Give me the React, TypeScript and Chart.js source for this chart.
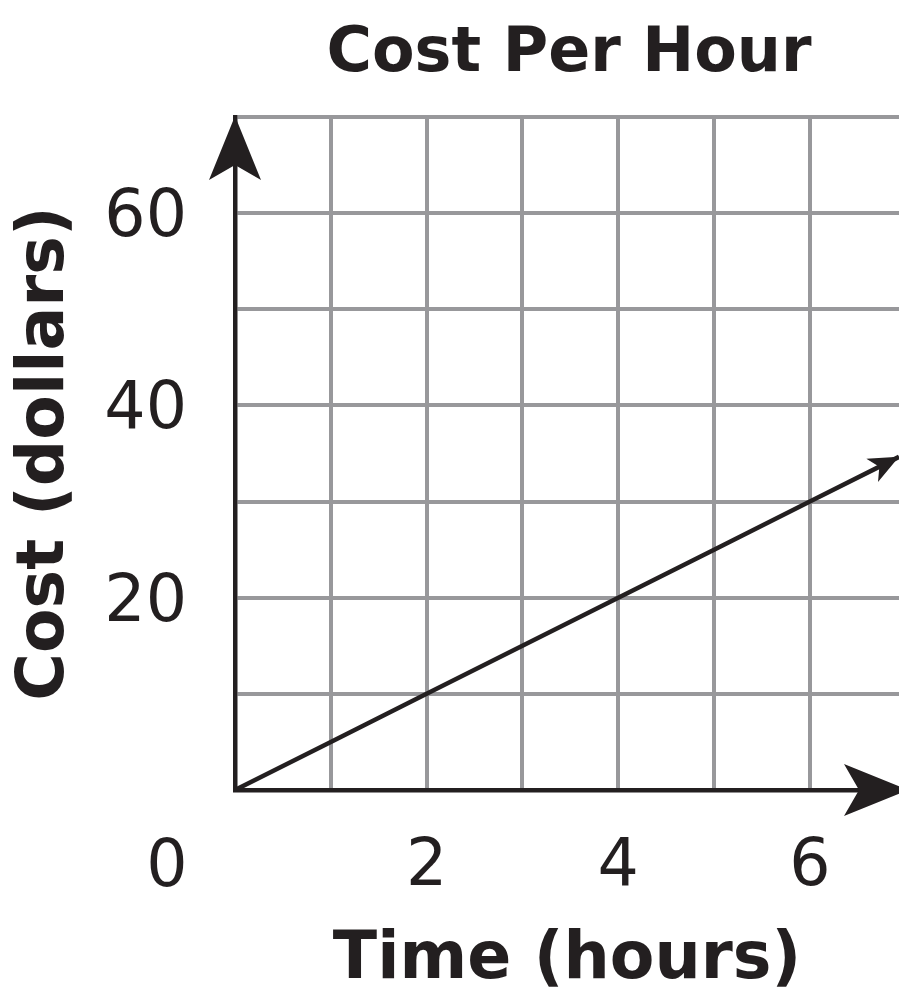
import React, { useEffect, useRef } from "react";
import { Chart, registerables } from "chart.js";

Chart.register(...registerables);

// ---- data ----
const TITLE = "Cost Per Hour";
const X_TITLE = "Time (hours)";
const Y_TITLE = "Cost (dollars)";
const hours = [0, 1, 2, 3, 4, 5, 6, 6.93];
const cost = [0, 5, 10, 15, 20, 25, 30, 34.65];
const xGridTicks = [0, 1, 2, 3, 4, 5, 6];
const yGridTicks = [0, 10, 20, 30, 40, 50, 60, 70];
const xLabeledTicks = [2, 4, 6];
const yLabeledTicks = [20, 40, 60];
const ORIGIN_LABEL = "0";
const X_MIN = 0;
const X_MAX = 6.93;
const Y_MIN = 0;
const Y_MAX = 70;

// ---- style ----
const INK = "#231f20";
const GRID = "#98989b";
const FONT = "'DejaVu Sans', Verdana, sans-serif";

function arrowHead(ctx: CanvasRenderingContext2D, tx: number, ty: number, angle: number, len: number, half: number, notch: number) {
  ctx.save();
  ctx.translate(tx, ty);
  ctx.rotate(angle);
  ctx.beginPath();
  ctx.moveTo(0, 0);
  ctx.lineTo(-len, -half);
  ctx.lineTo(-len + notch, 0);
  ctx.lineTo(-len, half);
  ctx.closePath();
  ctx.fill();
  ctx.restore();
}

const decorPlugin = {
  id: "decor",
  afterDatasetsDraw(chart: any) {
    const { ctx, chartArea, scales } = chart;
    const xs = scales.x;
    const ys = scales.y;
    const x0 = xs.getPixelForValue(X_MIN);
    const y0 = ys.getPixelForValue(Y_MIN);
    const yTop = ys.getPixelForValue(Y_MAX);
    ctx.save();
    ctx.fillStyle = INK;
    // axis arrows
    arrowHead(ctx, x0, yTop - 1, -Math.PI / 2, 64, 26, 15);
    arrowHead(ctx, chartArea.right + 9, y0, 0, 64, 26, 15);
    // data line arrow
    const pts = chart.getDatasetMeta(0).data;
    if (pts.length >= 2) {
      const a = pts[pts.length - 2];
      const b = pts[pts.length - 1];
      const ang = Math.atan2(b.y - a.y, b.x - a.x);
      arrowHead(ctx, b.x, b.y, ang, 30, 13, 8);
    }
    // origin label
    ctx.font = `65px ${FONT}`;
    ctx.textAlign = "center";
    ctx.textBaseline = "alphabetic";
    ctx.fillText(ORIGIN_LABEL, x0 - 68, y0 + 96);
    // title
    ctx.font = `bold 62px ${FONT}`;
    ctx.fillText(TITLE, (chartArea.left + chartArea.right) / 2 + 2, 71);
    ctx.restore();
  },
};

export default function App() {
  const ref = useRef<HTMLCanvasElement | null>(null);

  useEffect(() => {
    if (!ref.current) return;
    Chart.defaults.font.family = FONT;
    const chart = new Chart(ref.current, {
      type: "line",
      data: {
        datasets: [
          {
            data: hours.map((h, i) => ({ x: h, y: cost[i] })),
            borderColor: INK,
            borderWidth: 4.5,
            borderCapStyle: "butt",
            pointRadius: 0,
            fill: false,
            tension: 0,
          },
        ],
      },
      options: {
        animation: false,
        responsive: false,
        events: [],
        layout: { padding: { top: 117, left: 0, right: 0, bottom: 0 } },
        plugins: {
          legend: { display: false },
          title: { display: false },
          tooltip: { enabled: false },
        },
        scales: {
          x: {
            type: "linear",
            min: X_MIN,
            max: X_MAX,
            afterBuildTicks: (s: any) => {
              s.ticks = xGridTicks.map((v) => ({ value: v }));
            },
            afterFit: (s: any) => {
              s.height = 200;
              s.paddingLeft = 0;
              s.paddingRight = 0;
              s.paddingTop = 0;
              s.paddingBottom = 0;
            },
            ticks: {
              autoSkip: false,
              maxRotation: 0,
              padding: 39,
              color: INK,
              font: { size: 65, family: FONT },
              callback: (v: any) => (xLabeledTicks.includes(Number(v)) ? String(v) : ""),
            },
            grid: { color: GRID, lineWidth: 4, drawTicks: false },
            border: { display: true, color: INK, width: 4.5 },
            title: {
              display: true,
              text: X_TITLE,
              color: INK,
              font: { size: 65, weight: "bold", family: FONT, lineHeight: 0.9 },
              padding: { top: 0, bottom: 0 },
            },
          },
          y: {
            type: "linear",
            min: Y_MIN,
            max: Y_MAX,
            afterBuildTicks: (s: any) => {
              s.ticks = yGridTicks.map((v) => ({ value: v }));
            },
            afterFit: (s: any) => {
              s.width = 235;
              s.paddingLeft = 0;
              s.paddingRight = 0;
              s.paddingTop = 0;
              s.paddingBottom = 0;
            },
            ticks: {
              autoSkip: false,
              padding: 48,
              labelOffset: 6,
              color: INK,
              font: { size: 65, family: FONT },
              callback: (v: any) => (yLabeledTicks.includes(Number(v)) ? String(v) : ""),
            },
            grid: { color: GRID, lineWidth: 4, drawTicks: false },
            border: { display: true, color: INK, width: 4.5 },
            title: {
              display: true,
              text: Y_TITLE,
              color: INK,
              font: { size: 65, weight: "bold", family: FONT, lineHeight: 0.9 },
              padding: { top: 17, bottom: 0 },
            },
          },
        },
      },
      plugins: [decorPlugin],
    } as any);
    return () => chart.destroy();
  }, []);

  return (
    <div style={{ position: "absolute", left: 0, top: 0, width: 899, height: 990, background: "#fff" }}>
      <canvas ref={ref} width={899} height={990} style={{ display: "block" }} />
    </div>
  );
}
